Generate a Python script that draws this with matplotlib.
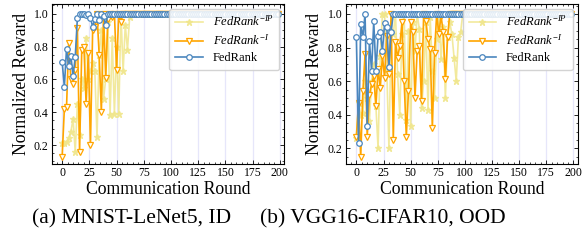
import matplotlib
matplotlib.use('Agg')
from matplotlib import pyplot as plt
from matplotlib.ticker import MultipleLocator, AutoMinorLocator

plt.rcParams['font.family'] = ['Liberation Serif', 'DejaVu Serif']
plt.rcParams['mathtext.fontset'] = 'custom'
plt.rcParams['mathtext.rm'] = 'Liberation Serif'
plt.rcParams['mathtext.it'] = 'Liberation Serif:italic'

N_POINTS = 100  # rounds 0, 2, ..., 198
rounds = [2 * i for i in range(N_POINTS)]

# (a) MNIST-LeNet5, ID -- noisy start, then converged at 1.0
a_fedrank = [0.705, 0.555, 0.785, 0.68, 0.745, 0.62, 0.735, 0.975, 1.0, 1.0,
             1.0, 0.99, 1.0, 0.975, 0.92, 0.965, 1.0, 0.96, 1.0, 0.985,
             0.93, 1.0]
a_no_i = [0.13, 0.42, 0.43, 0.82, 0.60, 0.57, 0.66, 0.91, 0.16, 0.78,
          0.80, 0.45, 0.76, 0.20, 0.90, 0.92, 1.0, 0.75, 0.40, 1.0,
          0.61, 0.97, 1.0, 0.98, 1.0, 0.66, 1.0, 0.95, 1.0]
a_no_ip = [0.21, 0.21, 0.22, 0.24, 0.28, 0.36, 0.16, 0.45, 0.26, 0.60,
           0.55, 0.85, 0.60, 0.65, 0.70, 0.65, 0.25, 0.75, 0.90, 0.48,
           0.60, 0.95, 0.38, 0.85, 0.39, 0.80, 0.39, 1.0, 0.65, 0.93,
           0.78, 0.98]

# (b) VGG16-CIFAR10, OOD
b_fedrank = [0.86, 0.23, 0.94, 0.86, 1.0, 0.33, 0.84, 0.66, 0.955, 0.66,
             0.87, 0.89, 0.78, 0.945, 0.925, 0.685, 0.895]
b_no_i = [0.27, 0.47, 0.15, 0.54, 0.76, 0.27, 0.52, 0.58, 0.63, 0.45,
          0.67, 0.56, 0.75, 0.62, 0.87, 0.64, 1.0, 0.25, 0.83, 0.74,
          0.81, 0.95, 0.60, 0.27, 0.54, 0.95, 0.89, 0.50, 0.78, 0.81,
          0.48, 1.0, 0.96, 0.85, 0.79, 0.32, 0.77, 1.0, 0.88, 0.99,
          0.89, 0.61, 0.86, 1.0]
b_no_ip = [0.26, 0.47, 0.40, 0.41, 0.60, 0.50, 0.36, 0.60, 0.70, 0.45,
           0.20, 0.75, 1.0, 1.0, 0.67, 0.20, 0.90, 0.88, 1.0, 0.64,
           0.40, 0.88, 1.0, 0.37, 0.90, 0.33, 0.95, 0.78, 1.0, 0.91,
           0.44, 0.60, 0.95, 0.43, 0.98, 0.66, 0.50, 0.85, 1.0, 0.73,
           0.92, 0.50, 0.86, 0.95, 0.88, 0.74, 0.60, 0.86, 0.89]


def pad(vals):
    # after the noisy part every series sits at 1.0
    return vals + [1.0] * (N_POINTS - len(vals))


def draw_panel(ax, fedrank, no_i, no_ip, ylim, xlim):
    ax.plot(rounds, pad(no_ip), color='#F0E68C', marker='*', ms=4.5,
            lw=1.2, alpha=0.85, label=r'$FedRank^{-IP}$', zorder=2)
    ax.plot(rounds, pad(no_i), color='#FFA500', marker='v', ms=4.3,
            mfc='white', mew=0.9, lw=1.2, label=r'$FedRank^{-I}$', zorder=3)
    ax.plot(rounds, pad(fedrank), color='#4A86BE', marker='o', ms=4.0,
            mfc='white', mew=0.9, lw=1.2, label='FedRank', zorder=4)

    ax.set_xlim(*xlim)
    ax.set_ylim(*ylim)
    ax.xaxis.set_major_locator(MultipleLocator(25))
    ax.yaxis.set_major_locator(MultipleLocator(0.2))
    ax.xaxis.set_minor_locator(AutoMinorLocator(5))
    ax.yaxis.set_minor_locator(AutoMinorLocator(4))
    ax.tick_params(which='both', direction='in', top=True, right=True,
                   labelsize=8.5, pad=2.5)
    ax.tick_params(which='major', length=3, width=0.6)
    ax.tick_params(which='minor', length=1.5, width=0.5)
    for s in ax.spines.values():
        s.set_linewidth(0.8)
    ax.grid(axis='x', color='#E6E6FA', lw=0.9, zorder=0)
    ax.set_xlabel('Communication Round', fontsize=12.7, labelpad=1)
    ax.set_ylabel('Normalized Reward', fontsize=12.7, labelpad=3)
    ax.legend(loc='upper right', fontsize=9, fancybox=True,
              edgecolor='#CCCCCC', framealpha=0.85, borderaxespad=0.4,
              handlelength=2.2, handletextpad=0.8, labelspacing=0.35,
              borderpad=0.45)


fig = plt.figure(figsize=(5.86, 2.4), dpi=100)
ax1 = fig.add_axes([0.089, 0.317, 0.396, 0.667])
ax2 = fig.add_axes([0.590, 0.317, 0.396, 0.667])

draw_panel(ax1, a_fedrank, a_no_i, a_no_ip, (0.085, 1.06), (-9.2, 204))
draw_panel(ax2, b_fedrank, b_no_i, b_no_ip, (0.107, 1.06), (-9.8, 204))

fig.text(0.225, 0.09, '(a) MNIST-LeNet5, ID', ha='center', va='center',
         fontsize=15.5)
fig.text(0.654, 0.09, '(b) VGG16-CIFAR10, OOD', ha='center', va='center',
         fontsize=15.5)

fig.savefig('out.png', dpi=100)
